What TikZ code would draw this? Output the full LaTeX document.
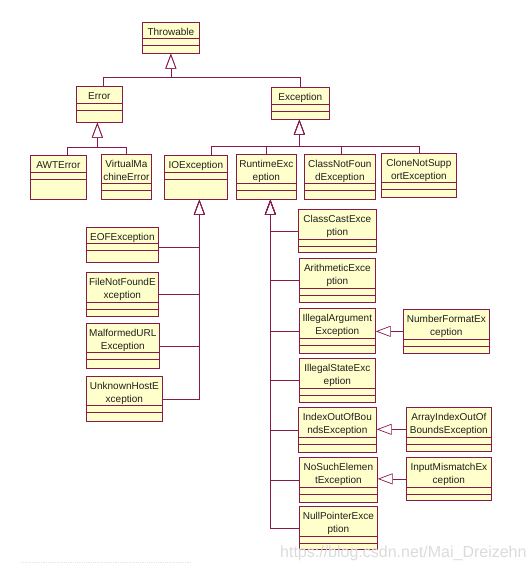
\documentclass[tikz,border=0pt]{standalone}
\usepackage{fontspec}
\setmainfont{Liberation Sans}
\usetikzlibrary{arrows.meta}

\definecolor{umlline}{RGB}{135,25,75}
\definecolor{umlfill}{RGB}{255,255,204}

\begin{document}
\begin{tikzpicture}[x=1pt, y=-1pt,
    cls/.style n args={3}{draw=umlline, fill=umlfill, line width=0.7pt, anchor=north west, inner sep=0pt, minimum width=#1, minimum height=#2,
        path picture={
            \draw[umlline, line width=0.7pt] ([yshift=-#3]path picture bounding box.north west) -- ([yshift=-#3]path picture bounding box.north east);
            \draw[umlline, line width=0.7pt] ([yshift=-#3-6.5]path picture bounding box.north west) -- ([yshift=-#3-6.5]path picture bounding box.north east);
        }},
    cname/.style={anchor=north, yshift=-6.2pt, inner sep=0pt, align=center, font=\fontsize{10}{12.6}\selectfont, text=black!88},
    gen/.style={-{Triangle[open, length=15pt, width=11pt]}, umlline, line width=0.7pt},
    wmark/.style={font=\fontsize{16}{18}\selectfont, text=black!14, inner sep=0pt},
]

\useasboundingbox (0,0) rectangle (532,571);

% === TOP LEVEL ===
\node[cls={57}{31}{16}, label={[cname]north:Throwable}] (thr) at (142,22) {};
\node[cls={46}{36}{17}, label={[cname]north:Error}] (err) at (76,86) {};
\node[cls={58}{32}{17}, label={[cname]north:Exception}] (exc) at (271,87) {};

% === ERROR SUBCLASSES ===
\node[cls={56}{44}{17}, label={[cname]north:AWTError}] (awt) at (30,155) {};
\node[cls={50}{45}{29}, label={[cname]north:{VirtualMa\\chineError}}] (vme) at (101,154) {};

% === EXCEPTION SUBCLASSES ===
\node[cls={63}{44}{17}, label={[cname]north:IOException}] (ioe) at (164,155) {};
\node[cls={60}{45}{29}, label={[cname]north:{RuntimeExc\\eption}}] (rte) at (236,154) {};
\node[cls={71}{45}{29}, label={[cname]north:{ClassNotFoun\\dException}}] (cnf) at (304,154) {};
\node[cls={75}{44}{29}, label={[cname]north:{CloneNotSupp\\ortException}}] (cns) at (381,153) {};

% === IOEXCEPTION SUBCLASSES ===
\node[cls={72}{35}{16}, label={[cname]north:EOFException}] (eof) at (86,227) {};
\node[cls={72}{44}{30}, label={[cname]north:{FileNotFoundE\\xception}}] (fnf) at (86,272) {};
\node[cls={73}{45}{29}, label={[cname]north:{MalformedURL\\Exception}}] (murl) at (86,323) {};
\node[cls={76}{45}{29}, label={[cname]north:{UnknownHostE\\xception}}] (uhe) at (86,376) {};

% === RUNTIMEEXCEPTION SUBCLASSES ===
\node[cls={78}{43}{30}, label={[cname]north:{ClassCastExce\\ption}}] (cce) at (298,209) {};
\node[cls={76}{44}{30}, label={[cname]north:{ArithmeticExce\\ption}}] (ari) at (299,258) {};
\node[cls={76}{45}{30}, label={[cname]north:{IllegalArgument\\Exception}}] (iae) at (299,308) {};
\node[cls={76}{44}{30}, label={[cname]north:{IllegalStateExc\\eption}}] (ise) at (299,358) {};
\node[cls={78}{45}{30}, label={[cname]north:{IndexOutOfBou\\ndsException}}] (ioob) at (298,407) {};
\node[cls={78}{45}{30}, label={[cname]north:{NoSuchElemen\\tException}}] (nse) at (299,457) {};
\node[cls={78}{43}{30}, label={[cname]north:{NullPointerExce\\ption}}] (npe) at (299,506) {};

% right column
\node[cls={86}{44}{30}, label={[cname]north:{NumberFormatEx\\ception}}] (nfe) at (403,309) {};
\node[cls={85}{44}{30}, label={[cname]north:{ArrayIndexOutOf\\BoundsException}}] (aioobe) at (406,407) {};
\node[cls={85}{43}{30}, label={[cname]north:{InputMismatchEx\\ception}}] (ime) at (406,457) {};

% === GENERALIZATION EDGES ===
% Throwable
\draw[gen] ([xshift=4]err.north) |- (thr.south |- 0,77) -- (thr.south);
\draw[gen] (exc.north) |- (thr.south |- 0,77) -- (thr.south);

% Error
\coordinate (errtip) at ([xshift=-2]err.south);
\draw[gen] ([xshift=9]awt.north) |- (errtip |- 0,147) -- (errtip);
\draw[gen] (vme.north) |- (errtip |- 0,147) -- (errtip);

% Exception
\coordinate (exctip) at ([xshift=-1]exc.south);
\foreach \c/\dx in {ioe/15.5, rte/0, cnf/1, cns/0} {
    \draw[gen] ([xshift=\dx]\c.north) |- (exctip |- 0,146) -- (exctip);
}

% IOException
\coordinate (ioetip) at ([xshift=3.5]ioe.south);
\draw[gen] ([yshift=-2.5]eof.east) -| (ioetip);
\foreach \c in {fnf, murl, uhe} {
    \draw[gen] (\c.east) -| (ioetip);
}

% RuntimeException
\coordinate (rtetip) at ([xshift=4]rte.south);
\foreach \c in {cce, ari, iae, ise, ioob, nse, npe} {
    \draw[gen] (\c.west) -| (rtetip);
}

% side subclasses
\draw[gen] (nfe.west) -- (nfe.west -| iae.east);
\draw[gen] (aioobe.west) -- (aioobe.west -| ioob.east);
\draw[gen] (ime.west) -- (ime.west -| nse.east);

% === WATERMARK ===
\node[wmark, anchor=west] (wm) at (280,553) {https://blog.csdn.net/Mai\_Dreizehn};
\draw[black!10, densely dotted, line width=0.8pt] (21,562) -- (192,562);

\end{tikzpicture}
\end{document}
